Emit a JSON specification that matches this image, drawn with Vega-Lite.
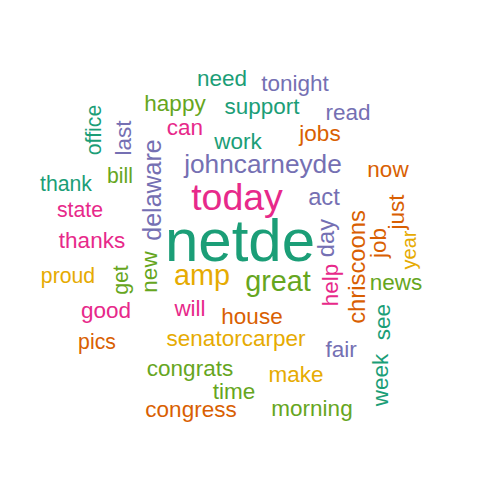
{
  "$schema": "https://vega.github.io/schema/vega-lite/v6.json",
  "autosize": {"type": "fit", "contains": "padding"},
  "width": 480,
  "height": 480,
  "padding": 0,
  "config": {"view": {"stroke": null}},
  "data": {"values": [
    {"word": "netde", "x": 240, "y": 243, "freq": 48, "c": "a", "rot": 0},
    {"word": "today", "x": 237, "y": 199, "freq": 30, "c": "d", "rot": 0},
    {"word": "johncarneyde", "x": 263, "y": 165, "freq": 21, "c": "c", "rot": 0},
    {"word": "amp", "x": 202, "y": 276, "freq": 23, "c": "f", "rot": 0},
    {"word": "great", "x": 278, "y": 282, "freq": 23, "c": "e", "rot": 0},
    {"word": "delaware", "x": 153, "y": 190, "freq": 20, "c": "c", "rot": 270},
    {"word": "house", "x": 252, "y": 317, "freq": 18, "c": "b", "rot": 0},
    {"word": "senatorcarper", "x": 236, "y": 339, "freq": 18, "c": "f", "rot": 0},
    {"word": "will", "x": 190, "y": 309, "freq": 18, "c": "d", "rot": 0},
    {"word": "congrats", "x": 190, "y": 369, "freq": 18, "c": "e", "rot": 0},
    {"word": "time", "x": 234, "y": 392, "freq": 18, "c": "e", "rot": 0},
    {"word": "make", "x": 296, "y": 375, "freq": 18, "c": "f", "rot": 0},
    {"word": "congress", "x": 191, "y": 410, "freq": 18, "c": "b", "rot": 0},
    {"word": "morning", "x": 312, "y": 409, "freq": 18, "c": "e", "rot": 0},
    {"word": "fair", "x": 341, "y": 350, "freq": 18, "c": "c", "rot": 0},
    {"word": "week", "x": 381, "y": 380, "freq": 18, "c": "a", "rot": 270},
    {"word": "see", "x": 383, "y": 322, "freq": 18, "c": "a", "rot": 270},
    {"word": "news", "x": 396, "y": 283, "freq": 18, "c": "e", "rot": 0},
    {"word": "chriscoons", "x": 358, "y": 267, "freq": 19, "c": "b", "rot": 270},
    {"word": "job", "x": 379, "y": 243, "freq": 18, "c": "b", "rot": 270},
    {"word": "just", "x": 397, "y": 212, "freq": 18, "c": "b", "rot": 270},
    {"word": "year", "x": 410, "y": 250, "freq": 16, "c": "f", "rot": 270},
    {"word": "now", "x": 388, "y": 170, "freq": 18, "c": "b", "rot": 0},
    {"word": "act", "x": 324, "y": 198, "freq": 19, "c": "c", "rot": 0},
    {"word": "day", "x": 327, "y": 238, "freq": 19, "c": "c", "rot": 270},
    {"word": "help", "x": 331, "y": 285, "freq": 18, "c": "d", "rot": 270},
    {"word": "jobs", "x": 320, "y": 134, "freq": 18, "c": "b", "rot": 0},
    {"word": "read", "x": 348, "y": 113, "freq": 18, "c": "c", "rot": 0},
    {"word": "tonight", "x": 295, "y": 84, "freq": 18, "c": "c", "rot": 0},
    {"word": "need", "x": 222, "y": 79, "freq": 18, "c": "a", "rot": 0},
    {"word": "support", "x": 262, "y": 107, "freq": 18, "c": "a", "rot": 0},
    {"word": "happy", "x": 175, "y": 104, "freq": 18, "c": "e", "rot": 0},
    {"word": "work", "x": 238, "y": 142, "freq": 18, "c": "a", "rot": 0},
    {"word": "can", "x": 185, "y": 128, "freq": 18, "c": "d", "rot": 0},
    {"word": "last", "x": 124, "y": 138, "freq": 18, "c": "c", "rot": 270},
    {"word": "office", "x": 95, "y": 130, "freq": 17, "c": "a", "rot": 270},
    {"word": "bill", "x": 120, "y": 177, "freq": 17, "c": "e", "rot": 0},
    {"word": "thank", "x": 66, "y": 185, "freq": 17, "c": "a", "rot": 0},
    {"word": "state", "x": 80, "y": 211, "freq": 17, "c": "d", "rot": 0},
    {"word": "thanks", "x": 92, "y": 241, "freq": 18, "c": "d", "rot": 0},
    {"word": "proud", "x": 68, "y": 277, "freq": 17, "c": "f", "rot": 0},
    {"word": "get", "x": 122, "y": 280, "freq": 17, "c": "e", "rot": 270},
    {"word": "new", "x": 150, "y": 272, "freq": 18, "c": "e", "rot": 270},
    {"word": "good", "x": 106, "y": 311, "freq": 18, "c": "d", "rot": 0},
    {"word": "pics", "x": 97, "y": 343, "freq": 17, "c": "b", "rot": 0}
  ]},
  "mark": {"type": "text", "font": "Liberation Sans", "align": "center", "baseline": "middle"},
  "encoding": {
    "x": {"field": "x", "type": "quantitative", "scale": {"domain": [0, 480]}, "axis": null},
    "y": {"field": "y", "type": "quantitative", "scale": {"domain": [480, 0]}, "axis": null},
    "text": {"field": "word"},
    "angle": {"field": "rot", "type": "quantitative", "scale": null},
    "size": {"field": "freq", "type": "quantitative", "scale": {"type": "linear", "domain": [0, 48], "range": [0, 60]}, "legend": null},
    "color": {"field": "c", "type": "nominal", "scale": {"domain": ["a", "b", "c", "d", "e", "f"], "range": ["#1b9e77", "#d95f02", "#7570b3", "#e7298a", "#66a61e", "#e6ab02"]}, "legend": null}
  }
}
